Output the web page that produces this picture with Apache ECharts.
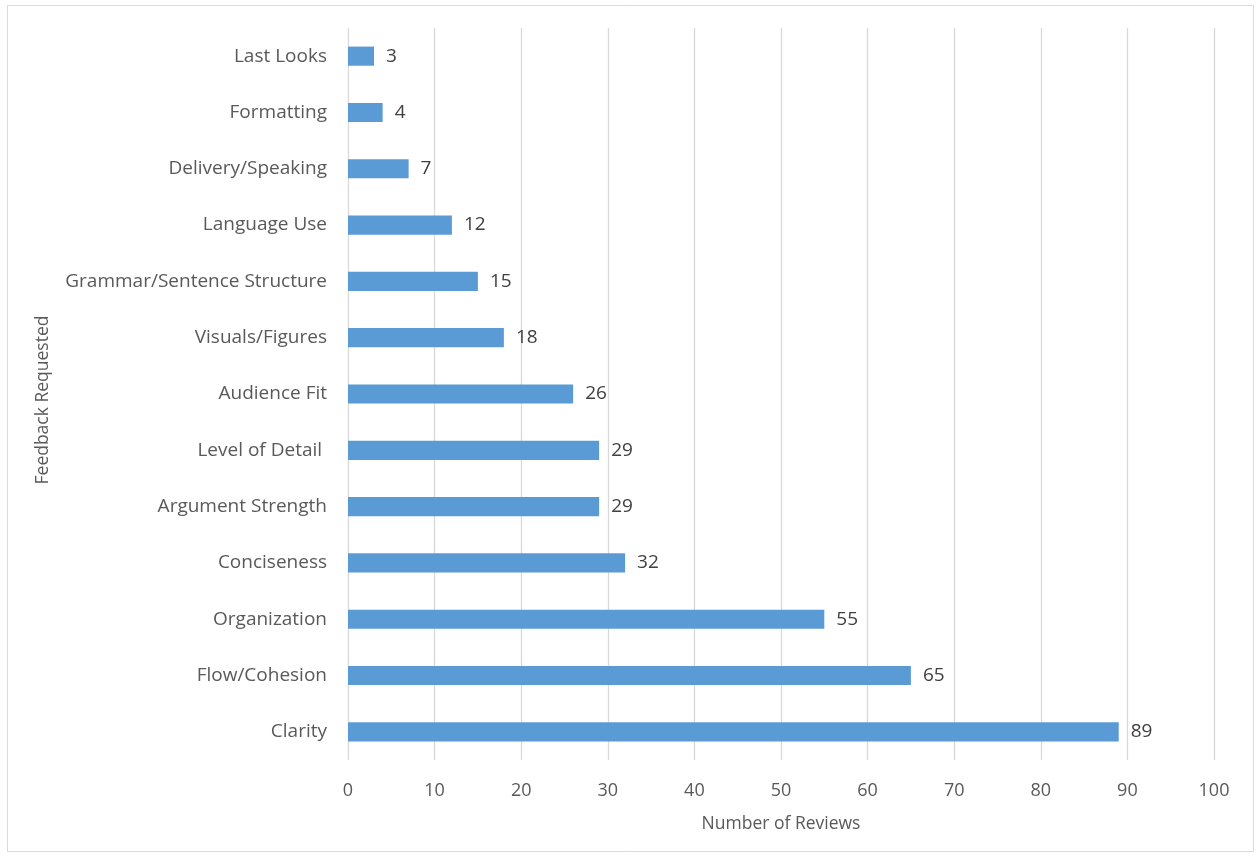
<!DOCTYPE html>
<html><head><meta charset="utf-8">
<script src="https://cdn.jsdelivr.net/npm/echarts@6/dist/echarts.min.js"></script>
<style>html,body{margin:0;padding:0;background:#fff}#c{width:1256px;height:856px}</style>
</head><body><div id="c"></div>
<script>
const categories = ["Clarity","Flow/Cohesion","Organization","Conciseness","Argument Strength","Level of Detail ","Audience Fit","Visuals/Figures","Grammar/Sentence Structure","Language Use","Delivery/Speaking","Formatting","Last Looks"];
const reviews = [89,65,55,32,29,29,26,18,15,12,7,4,3];
const xTicks = {min:0, max:100, interval:10};
const FONT = 'Open Sans';
const chart = echarts.init(document.getElementById('c'));
chart.setOption({
  animation:false,
  textStyle:{fontFamily:FONT},
  graphic:[{type:'rect',shape:{x:7.5,y:5.5,width:1246,height:846},style:{fill:'none',stroke:'#d9d9d9',lineWidth:1}}],
  grid:{left:348,right:42,top:28,bottom:96,containLabel:false},
  xAxis:{type:'value',min:xTicks.min,max:xTicks.max,interval:xTicks.interval,
    name:'Number of Reviews',nameLocation:'middle',nameGap:55,
    nameTextStyle:{fontSize:17.5,color:'#595959',fontFamily:FONT},
    axisLine:{show:false},axisTick:{show:false},
    axisLabel:{fontSize:18,color:'#595959',margin:22,fontFamily:FONT},
    splitLine:{show:true,lineStyle:{color:'#d9d9d9',width:1.3}}},
  yAxis:{type:'category',data:categories,
    name:'Feedback Requested',nameLocation:'middle',nameGap:296,nameRotate:90,
    nameTextStyle:{fontSize:17.5,color:'#595959',fontFamily:FONT,padding:[0,12,0,0]},
    axisLine:{show:false},axisTick:{show:false},
    axisLabel:{fontSize:19,color:'#595959',margin:21,fontFamily:FONT,padding:[7,0,0,0]}},
  series:[{type:'bar',data:reviews,barWidth:'34%',
    itemStyle:{color:'#5b9bd5'},
    label:{show:true,position:'right',distance:12,fontSize:19,color:'#404040',fontFamily:FONT,padding:[7,0,0,0]}}]
});
</script></body></html>
